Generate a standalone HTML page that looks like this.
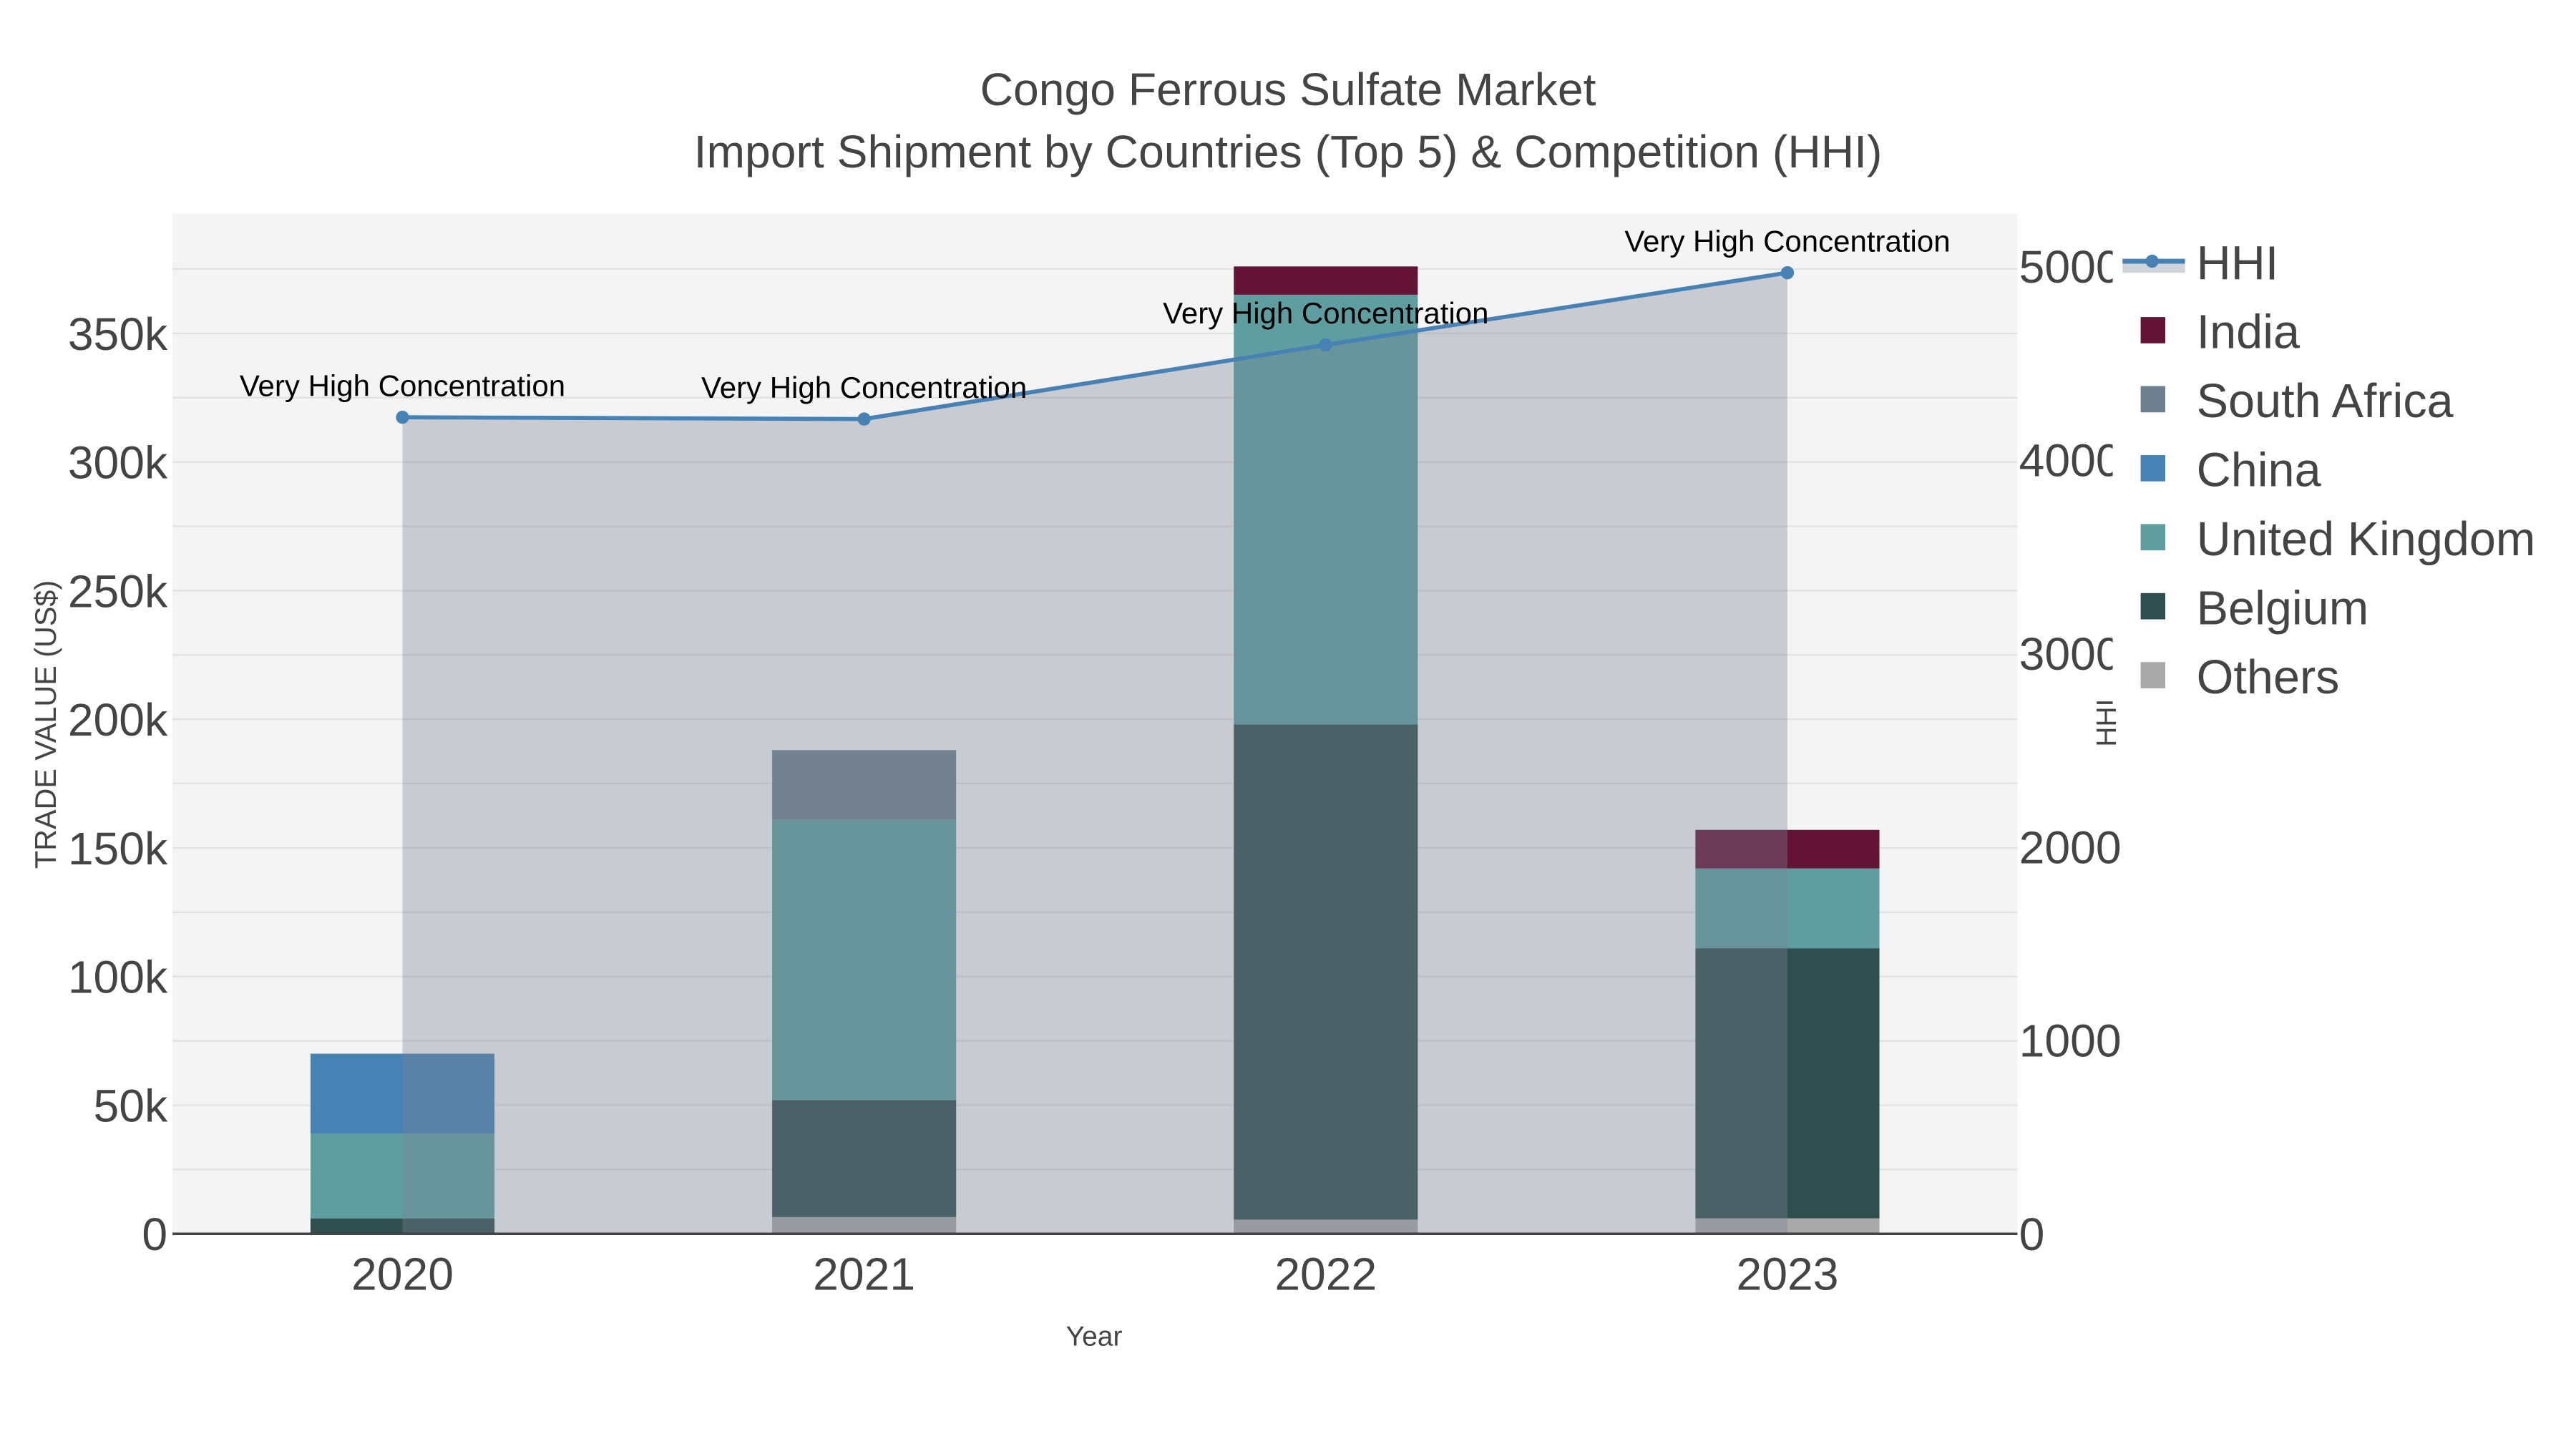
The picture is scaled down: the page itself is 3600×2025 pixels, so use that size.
<!DOCTYPE html>
<html><head><meta charset="utf-8"><style>
html,body{margin:0;padding:0;background:#fff;}
svg{display:block;font-family:"Liberation Sans",sans-serif;}
</style></head><body>
<svg id="chart" width="3600" height="2025" viewBox="0 0 1568 882" xmlns="http://www.w3.org/2000/svg">
<rect width="1568" height="882" fill="#fff"/>
<text x="784" y="64" text-anchor="middle" font-size="28" fill="#444">Congo Ferrous Sulfate Market</text>
<text x="784" y="102" text-anchor="middle" font-size="28" fill="#444">Import Shipment by Countries (Top 5) &amp; Competition (HHI)</text>
<rect x="105" y="130" width="1123" height="621" fill="#f4f4f4"/>
<g id="grid"></g>
<g id="bars"></g>
<g id="hhi"></g>
<line x1="105" y1="751" x2="1228" y2="751" stroke="#444" stroke-width="1.5"/>
<g id="axes"></g>
<text transform="translate(34,441) rotate(-90)" text-anchor="middle" font-size="18" fill="#444">TRADE VALUE (US$)</text>
<text x="666" y="819" text-anchor="middle" font-size="17" fill="#444">Year</text>
<text transform="translate(1288,440) rotate(-90)" text-anchor="middle" font-size="17" fill="#444">HHI</text>
<rect x="1286" y="140" width="282" height="290" fill="#fff"/>
<g id="legend"></g>
</svg>
<script>
const years = ["2020","2021","2022","2023"];
const others = [0, 6500, 5500, 6000];
const belgium = [6000, 45500, 192500, 105000];
const uk = [33000, 109000, 167000, 31000];
const china = [31000, 0, 0, 0];
const southAfrica = [0, 27000, 0, 0];
const india = [0, 0, 11000, 15000];
const hhi = [4219, 4210, 4593, 4966];
const hhiLabels = ["Very High Concentration","Very High Concentration","Very High Concentration","Very High Concentration"];
const yTicks = [0,50000,100000,150000,200000,250000,300000,350000];
const yTickLabels = ["0","50k","100k","150k","200k","250k","300k","350k"];
const y2Ticks = [0,1000,2000,3000,4000,5000];
const y2TickLabels = ["0","1000","2000","3000","4000","5000"];

const NS="http://www.w3.org/2000/svg";
const y = v => 751 - v/50000*78.3;
const y2 = v => 751 - v/1000*117.8;
const x = i => 245 + i*281;
function mk(tag, attrs, parent, txt){const e=document.createElementNS(NS,tag);for(const k in attrs)e.setAttribute(k,attrs[k]);if(txt!==undefined)e.textContent=txt;parent.appendChild(e);return e;}
const grid=document.getElementById('grid'), bars=document.getElementById('bars'), hg=document.getElementById('hhi'), axes=document.getElementById('axes'), leg=document.getElementById('legend');
for(let v=25000; v<=375000; v+=25000){ mk('line',{x1:105,x2:1228,y1:y(v),y2:y(v),stroke:'#e2e2e2','stroke-width':1},grid); }
yTicks.forEach((v,i)=>{const t=mk('text',{x:102,y:y(v)+10,'text-anchor':'end','font-size':28,fill:'#444'},axes,yTickLabels[i]);

});
y2Ticks.forEach((v,i)=>{const t=mk('text',{x:1229,y:y2(v)+10,'font-size':28,fill:'#444'},axes,y2TickLabels[i]);

});
years.forEach((yr,i)=>{const t=mk('text',{x:x(i),y:785,'text-anchor':'middle','font-size':28,fill:'#444'},axes,yr);

});
const series=[["others",others,"#a9a9a9"],["belgium",belgium,"#2f4f4f"],["united-kingdom",uk,"#5f9ea0"],["china",china,"#4682b4"],["south-africa",southAfrica,"#708090"],["india",india,"#641436"]];
years.forEach((yr,i)=>{let base=0;series.forEach(s=>{const v=s[1][i];if(v>0){const r=mk('rect',{x:x(i)-56,width:112,y:y(base+v),height:y(base)-y(base+v),fill:s[2]},bars);

}base+=v;});});
let d='M'+x(0)+',751';hhi.forEach((v,i)=>d+=' L'+x(i)+','+y2(v));d+=' L'+x(hhi.length-1)+',751 Z';
const area=mk('path',{d:d,fill:'rgb(122,131,146)','fill-opacity':0.36},hg);


const line=mk('polyline',{points:hhi.map((v,i)=>x(i)+','+y2(v)).join(' '),fill:'none',stroke:'#4682b4','stroke-width':2.5},hg);


hhi.forEach((v,i)=>{const c=mk('circle',{cx:x(i),cy:y2(v),r:4,fill:'#4682b4'},hg);


const t=mk('text',{x:x(i),y:y2(v)-13,'text-anchor':'middle','font-size':18.3,fill:'#000'},hg,hhiLabels[i]);

});
// legend
mk('rect',{x:1292,y:159,width:38,height:7,fill:'#cfd4db'},leg);
mk('line',{x1:1292,x2:1330,y1:159,y2:159,stroke:'#4682b4','stroke-width':3},leg);
mk('circle',{cx:1310,cy:159,r:4,fill:'#4682b4'},leg);
const lh=mk('text',{x:1337,y:170,'font-size':29,fill:'#444'},leg,'HHI');


const legItems=[["India","#641436"],["South Africa","#708090"],["China","#4682b4"],["United Kingdom","#5f9ea0"],["Belgium","#2f4f4f"],["Others","#a9a9a9"]];
legItems.forEach((it,k)=>{const cy=201+k*42;mk('rect',{x:1303,y:cy-8,width:15,height:16,fill:it[1]},leg);
const t=mk('text',{x:1337,y:cy+11,'font-size':29,fill:'#444'},leg,it[0]);

});
</script>
</body></html>
